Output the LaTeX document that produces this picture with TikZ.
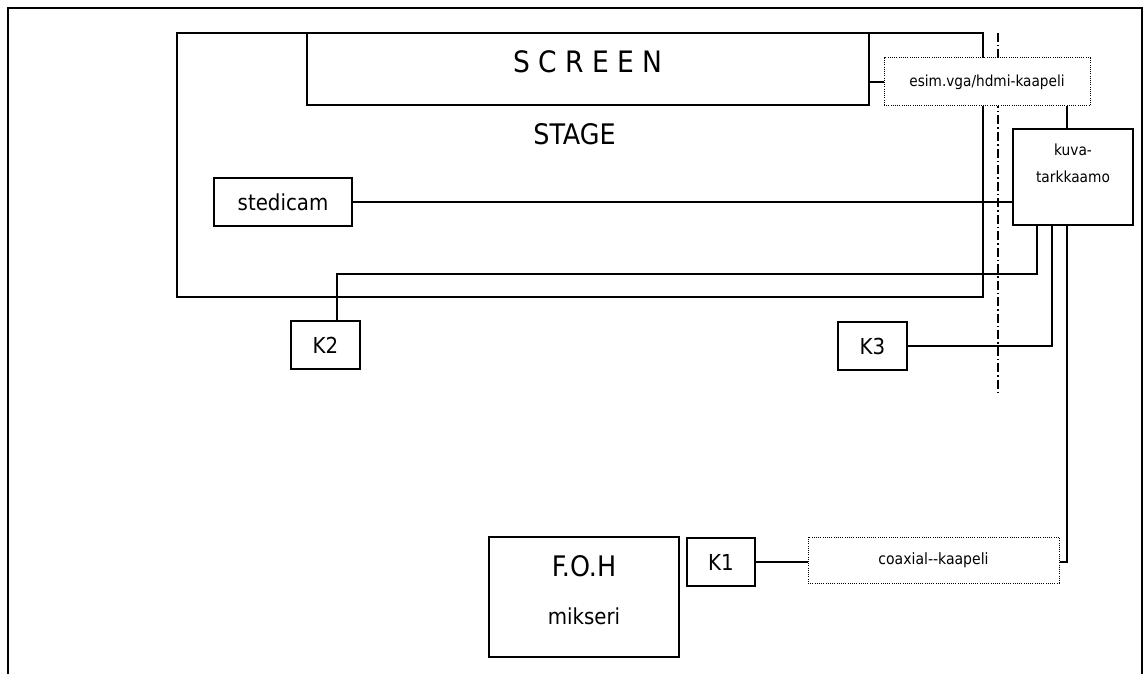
\documentclass[tikz,border=0pt]{standalone}
\usepackage{fontspec}
\newfontfamily\dvc{DejaVu Sans Condensed}
\begin{document}
\begin{tikzpicture}[x=1pt,y=-1pt,
  wire/.style={line width=1.5pt},
  box/.style={draw, line width=1.5pt, inner sep=0pt, fill=white, font=\dvc\fontsize{22}{26}\selectfont},
  dbox/.style={draw, line width=1pt, dash pattern=on 1pt off 1.2pt, inner sep=0pt, fill=white, font=\dvc\fontsize{15.6}{27}\selectfont},
  dashdotline/.style={line width=1.3pt, dash pattern=on 9pt off 3pt on 1.5pt off 3pt}]
\useasboundingbox (0,0) rectangle (1145,674);
% page frame
\draw[wire] (8,674) -- (8,8) -- (1142,8) -- (1142,674);
% stage
\node[box, fill=none, minimum width=806pt, minimum height=264pt] (stage) at (580,165) {};
\node[box, minimum width=562pt, minimum height=72pt, font=\dvc\fontsize{29.5}{30}\selectfont, text depth=14pt] (screen) at (588,69) {S C R E E N};
\node[inner sep=0pt, font=\dvc\fontsize{28.3}{30}\selectfont] (stagelbl) at (574.5,134) {STAGE};
% dash-dot boundary
\coordinate (dtop) at (998,33);
\coordinate (dbot) at (998,393);
\draw[dashdotline] (dtop) -- (dbot);
% nodes
\node[box, minimum width=138pt, minimum height=48pt] (stedi) at (283,202) {stedicam};
\node[dbox, minimum width=206pt, minimum height=48pt, font=\dvc\fontsize{15.2}{18}\selectfont] (esim) at (987,82) {esim.vga/hdmi-kaapeli};
\node[box, minimum width=120pt, minimum height=96pt, align=center, font=\dvc\fontsize{15.3}{27}\selectfont, text depth=27pt] (kuva) at (1073,177) {kuva-\\tarkkaamo};
\node[box, minimum width=69pt, minimum height=48pt] (k2) at (325.5,345) {K2};
\node[box, minimum width=69pt, minimum height=48pt] (k3) at (872.5,346) {K3};
\node[box, minimum width=68pt, minimum height=48pt] (k1) at (721,562) {K1};
\node[dbox, minimum width=251pt, minimum height=46pt] (coax) at (933.5,560) {coaxial-{}-kaapeli};
\node[box, minimum width=190pt, minimum height=120pt, align=center, font=\dvc\fontsize{22}{48}\selectfont, text depth=14pt] (foh) at (584,597) {{\fontsize{28.3}{48}\selectfont F.O.H}\\mikseri};
% connectors
\draw[wire] (screen.east |- esim.west) -- (esim.west);
\draw[wire] ([xshift=-6pt]kuva.north) -- ([xshift=-6pt]kuva.north |- esim.south);
\draw[wire] (stedi.east) -- (stedi.east -| kuva.west);
\draw[wire] ([xshift=-36pt]kuva.south) -- ++(0,48) -| ([xshift=11.5pt]k2.north);
\draw[wire] ([xshift=-21pt]kuva.south) |- (k3.east);
\draw[wire] ([xshift=-6pt]kuva.south) |- (k1.east -| coax.east) -- (coax.east |- k1.east);
\draw[wire] (k1.east) -- (k1.east -| coax.west);
\end{tikzpicture}
\end{document}
